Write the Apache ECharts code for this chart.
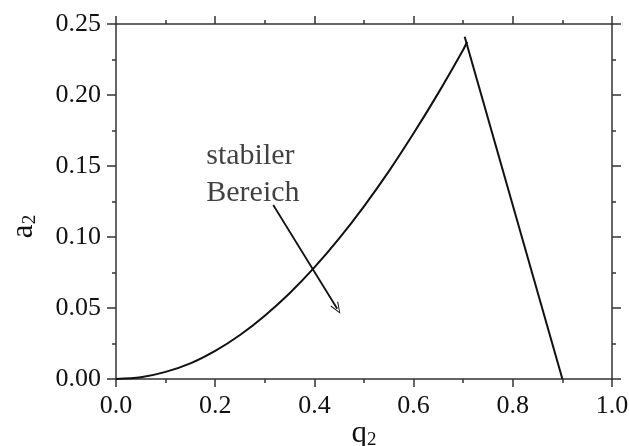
<!DOCTYPE html>
<html>
<head>
<meta charset="utf-8">
<script src="https://cdn.jsdelivr.net/npm/echarts@6/dist/echarts.min.js"></script>
<style>
  html, body { margin: 0; padding: 0; background: #fff; }
  #chart { width: 629px; height: 446px; }
</style>
</head>
<body>
<div id="chart"></div>
<script>
// stability boundary (left branch)
var curveQ = [0, 0.05, 0.1, 0.15, 0.2, 0.25, 0.3, 0.35, 0.4, 0.45, 0.5, 0.55, 0.6, 0.65, 0.7, 0.708]
var curveA = [0, 0.0012, 0.005, 0.011, 0.0198, 0.031, 0.0446, 0.0604, 0.0786, 0.099, 0.1216, 0.1462, 0.173, 0.2015, 0.2319, 0.2375]

// right branch (straight line)
var lineQ = [0.703, 0.900]
var lineA = [0.241, 0]

// annotation arrow: from text to the stable region
var arrowQ = [0.317, 0.446]
var arrowA = [0.1225, 0.0495]
var labelPos = [0.182, 0.170]
var labelText = 'stabiler\nBereich'

var xTicks = [0, 1, 0.2]     // min, max, interval
var yTicks = [0, 0.25, 0.05]

var font = '"Liberation Serif", "Times New Roman", serif'
var ink = '#111'

function pairs(xs, ys) {
  var out = []
  for (var i = 0; i < xs.length; i++) out.push([xs[i], ys[i]])
  return out
}

var chart = echarts.init(document.getElementById('chart'), null, { renderer: 'canvas' })

function xAxisOf(pos, showLabel) {
  return {
    type: 'value',
    position: pos,
    min: xTicks[0], max: xTicks[1], interval: xTicks[2],
    axisLine: { show: true, onZero: false, lineStyle: { color: '#333', width: 1.5 } },
    axisTick: { show: true, inside: false, length: 8, lineStyle: { color: '#333', width: 1.5 } },
    minorTick: { show: true, splitNumber: 2, length: 4, lineStyle: { color: '#333', width: 1.5 } },
    splitLine: { show: false },
    axisLabel: {
      show: showLabel, margin: 14, color: ink, fontFamily: font, fontSize: 26,
      formatter: function (v) { return v.toFixed(1) }
    },
    name: showLabel ? '{b|q}{s|2}' : '',
    nameLocation: 'middle',
    nameMoveOverlap: false,
    nameGap: 38,
    nameTextStyle: {
      rich: {
        b: { fontFamily: font, fontSize: 31, color: ink },
        s: { fontFamily: font, fontSize: 19, color: ink, verticalAlign: 'bottom', padding: [14, 0, 0, 0] }
      }
    }
  }
}

function yAxisOf(pos, showLabel) {
  return {
    type: 'value',
    position: pos,
    min: yTicks[0], max: yTicks[1], interval: yTicks[2],
    axisLine: { show: true, onZero: false, lineStyle: { color: '#333', width: 1.5 } },
    axisTick: { show: true, inside: false, length: 9, lineStyle: { color: '#333', width: 1.5 } },
    minorTick: { show: true, splitNumber: 2, length: 4, lineStyle: { color: '#333', width: 1.5 } },
    splitLine: { show: false },
    axisLabel: {
      show: showLabel, margin: 15, color: ink, fontFamily: font, fontSize: 26,
      formatter: function (v) { return v.toFixed(2) }
    },
    name: showLabel ? '{b|a}{s|2}' : '',
    nameLocation: 'middle',
    nameMoveOverlap: false,
    nameGap: 76,
    nameTextStyle: {
      padding: [0, 50, 0, 0],
      rich: {
        b: { fontFamily: font, fontSize: 31, color: ink },
        s: { fontFamily: font, fontSize: 19, color: ink, verticalAlign: 'bottom', padding: [14, 0, 0, 0] }
      }
    }
  }
}

chart.setOption({
  backgroundColor: '#fff',
  animation: false,
  grid: { left: 116, right: 17, top: 24, bottom: 67, outerBoundsMode: 'none', containLabel: false },
  xAxis: [xAxisOf('bottom', true), xAxisOf('top', false)],
  yAxis: [yAxisOf('left', true), yAxisOf('right', false)],
  series: [
    {
      type: 'line',
      data: pairs(curveQ, curveA),
      showSymbol: false,
      smooth: 0.3,
      lineStyle: { color: ink, width: 2 },
      markLine: {
        silent: true,
        symbol: ['none', 'path://M0,12 L5,0 L10,12 L9,12.6 L5,2.4 L1,12.6 Z'],
        symbolSize: [9, 12],
        label: { show: false },
        lineStyle: { color: ink, width: 1.8, type: 'solid' },
        data: [[
          { coord: [arrowQ[0], arrowA[0]] },
          { coord: [arrowQ[1], arrowA[1]] }
        ]]
      }
    },
    {
      type: 'line',
      data: pairs(lineQ, lineA),
      showSymbol: false,
      lineStyle: { color: ink, width: 2 }
    },
    {
      type: 'scatter',
      data: [labelPos],
      symbolSize: 0,
      silent: true,
      label: {
        show: true,
        position: [0, 0],
        align: 'left',
        verticalAlign: 'top',
        formatter: labelText,
        fontFamily: font,
        fontSize: 30,
        lineHeight: 37,
        color: ink
      }
    }
  ]
})
</script>
</body>
</html>
